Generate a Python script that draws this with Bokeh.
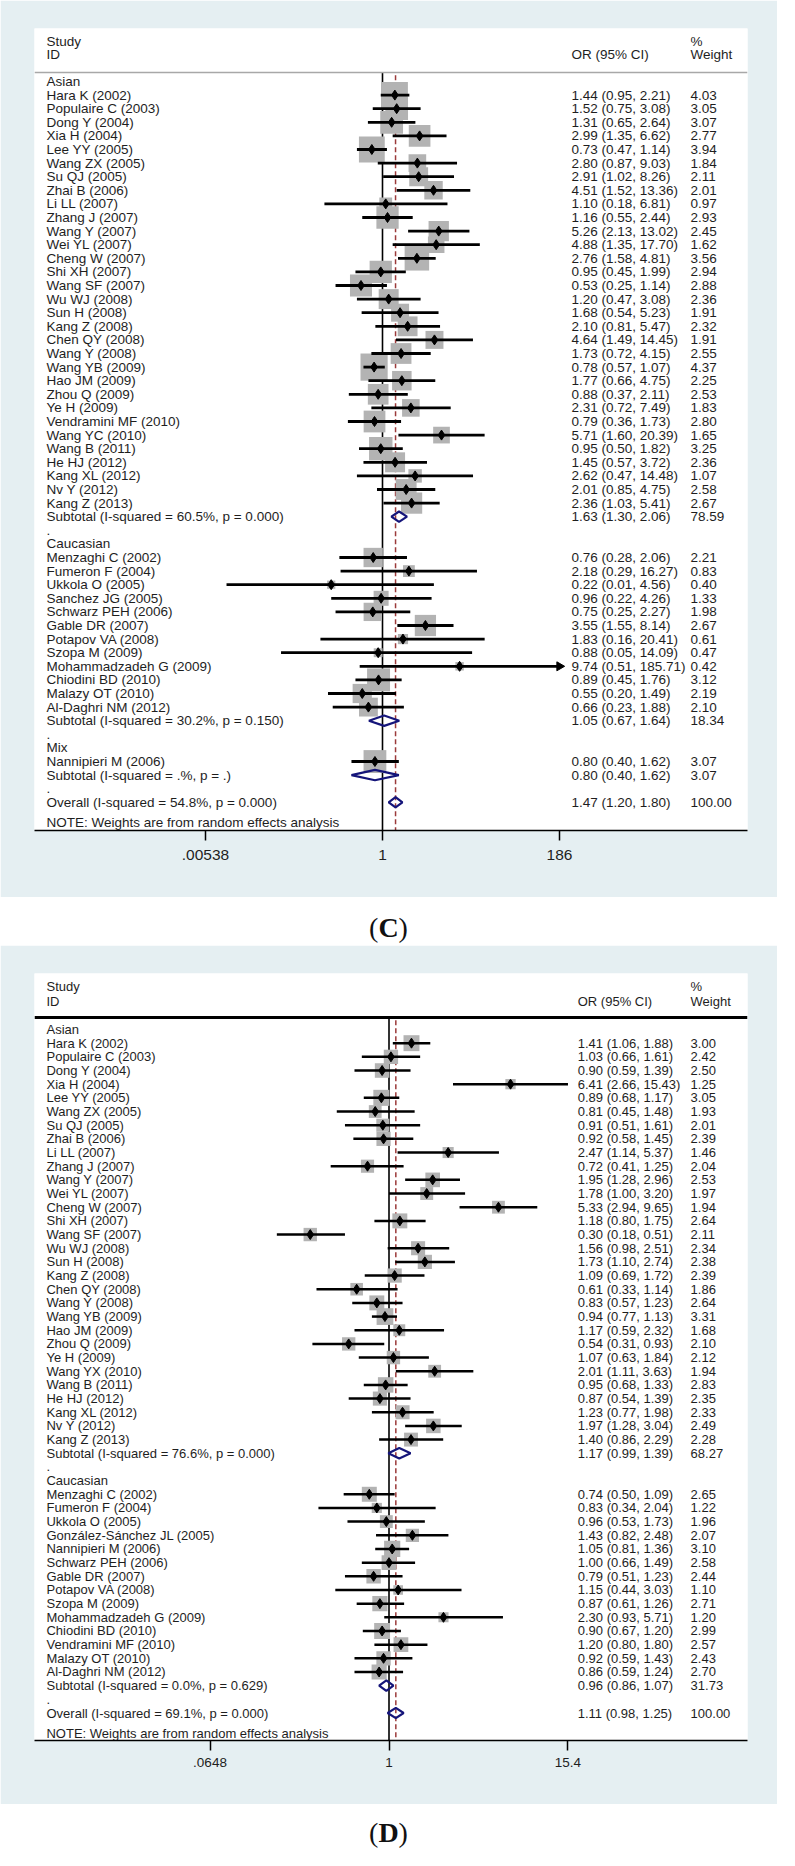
import numpy as np
from bokeh.plotting import figure
from bokeh.models import Range1d, FixedTicker, Span, Div
from bokeh.layouts import column
from bokeh.embed import file_html
from bokeh.resources import INLINE
from bokeh.core.properties import value

# ---------------- Panel C data ----------------
C_group_names = ["Asian", "Caucasian", "Mix"]
C_names = ["Hara K (2002)", "Populaire C (2003)", "Dong Y (2004)", "Xia H (2004)", "Lee YY (2005)",
           "Wang ZX (2005)", "Su QJ (2005)", "Zhai B (2006)", "Li LL (2007)", "Zhang J (2007)",
           "Wang Y (2007)", "Wei YL (2007)", "Cheng W (2007)", "Shi XH (2007)", "Wang SF (2007)",
           "Wu WJ (2008)", "Sun H (2008)", "Kang Z (2008)", "Chen QY (2008)", "Wang Y (2008)",
           "Wang YB  (2009)", "Hao JM (2009)", "Zhou Q (2009)", "Ye H (2009)", "Vendramini MF (2010)",
           "Wang YC (2010)", "Wang B (2011)", "He HJ (2012)", "Kang XL (2012)", "Nv Y (2012)",
           "Kang Z (2013)",
           "Menzaghi C (2002)", "Fumeron F (2004)", "Ukkola O (2005)", "Sanchez JG (2005)",
           "Schwarz PEH (2006)", "Gable DR (2007)", "Potapov VA (2008)", "Szopa M (2009)",
           "Mohammadzadeh G (2009)", "Chiodini BD (2010)", "Malazy OT (2010)", "Al-Daghri NM (2012)",
           "Nannipieri M (2006)"]
C_group = ["Asian"] * 31 + ["Caucasian"] * 12 + ["Mix"]
C_or = [1.44, 1.52, 1.31, 2.99, 0.73, 2.80, 2.91, 4.51, 1.10, 1.16, 5.26, 4.88, 2.76, 0.95, 0.53,
        1.20, 1.68, 2.10, 4.64, 1.73, 0.78, 1.77, 0.88, 2.31, 0.79, 5.71, 0.95, 1.45, 2.62, 2.01, 2.36,
        0.76, 2.18, 0.22, 0.96, 0.75, 3.55, 1.83, 0.88, 9.74, 0.89, 0.55, 0.66,
        0.80]
C_lo = [0.95, 0.75, 0.65, 1.35, 0.47, 0.87, 1.02, 1.52, 0.18, 0.55, 2.13, 1.35, 1.58, 0.45, 0.25,
        0.47, 0.54, 0.81, 1.49, 0.72, 0.57, 0.66, 0.37, 0.72, 0.36, 1.60, 0.50, 0.57, 0.47, 0.85, 1.03,
        0.28, 0.29, 0.01, 0.22, 0.25, 1.55, 0.16, 0.05, 0.51, 0.45, 0.20, 0.23,
        0.40]
C_hi = [2.21, 3.08, 2.64, 6.62, 1.14, 9.03, 8.26, 13.36, 6.81, 2.44, 13.02, 17.70, 4.81, 1.99, 1.14,
        3.08, 5.23, 5.47, 14.45, 4.15, 1.07, 4.75, 2.11, 7.49, 1.73, 20.39, 1.82, 3.72, 14.48, 4.75, 5.41,
        2.06, 16.27, 4.56, 4.26, 2.27, 8.14, 20.41, 14.09, 185.71, 1.76, 1.49, 1.88,
        1.62]
C_wt = [4.03, 3.05, 3.07, 2.77, 3.94, 1.84, 2.11, 2.01, 0.97, 2.93, 2.45, 1.62, 3.56, 2.94, 2.88,
        2.36, 1.91, 2.32, 1.91, 2.55, 4.37, 2.25, 2.53, 1.83, 2.80, 1.65, 3.25, 2.36, 1.07, 2.58, 2.67,
        2.21, 0.83, 0.40, 1.33, 1.98, 2.67, 0.61, 0.47, 0.42, 3.12, 2.19, 2.10,
        3.07]
C_arrow_studies = ["Mohammadzadeh G (2009)"]
C_sub_text = ["Subtotal  (I-squared = 60.5%, p = 0.000)",
              "Subtotal  (I-squared = 30.2%, p = 0.150)",
              "Subtotal  (I-squared = .%, p = .)"]
C_sub_or = [1.63, 1.05, 0.80]
C_sub_lo = [1.30, 0.67, 0.40]
C_sub_hi = [2.06, 1.64, 1.62]
C_sub_wt = [78.59, 18.34, 3.07]
C_ov_text = "Overall  (I-squared = 54.8%, p = 0.000)"
C_ov_or, C_ov_lo, C_ov_hi, C_ov_wt = 1.47, 1.20, 1.80, 100.00
C_ticks = [0.00538, 1, 186]
C_tick_labels = [".00538", "1", "186"]

# ---------------- Panel D data ----------------
D_group_names = ["Asian", "Caucasian"]
D_names = ["Hara K (2002)", "Populaire C (2003)", "Dong Y (2004)", "Xia H (2004)", "Lee YY (2005)",
           "Wang ZX (2005)", "Su QJ (2005)", "Zhai B (2006)", "Li LL (2007)", "Zhang J (2007)",
           "Wang Y (2007)", "Wei YL (2007)", "Cheng W (2007)", "Shi XH (2007)", "Wang SF (2007)",
           "Wu WJ (2008)", "Sun H (2008)", "Kang Z (2008)", "Chen QY (2008)", "Wang Y (2008)",
           "Wang YB  (2009)", "Hao JM (2009)", "Zhou Q (2009)", "Ye H (2009)", "Wang YX (2010)",
           "Wang B (2011)", "He HJ (2012)", "Kang XL (2012)", "Nv Y (2012)", "Kang Z (2013)",
           "Menzaghi C (2002)", "Fumeron F (2004)", "Ukkola O (2005)", "González-Sánchez JL (2005)",
           "Nannipieri M (2006)", "Schwarz PEH (2006)", "Gable DR (2007)", "Potapov VA (2008)",
           "Szopa M (2009)", "Mohammadzadeh G (2009)", "Chiodini BD (2010)", "Vendramini MF (2010)",
           "Malazy OT (2010)", "Al-Daghri NM (2012)"]
D_group = ["Asian"] * 30 + ["Caucasian"] * 14
D_or = [1.41, 1.03, 0.90, 6.41, 0.89, 0.81, 0.91, 0.92, 2.47, 0.72, 1.95, 1.78, 5.33, 1.18, 0.30,
        1.56, 1.73, 1.09, 0.61, 0.83, 0.94, 1.17, 0.54, 1.07, 2.01, 0.95, 0.87, 1.23, 1.97, 1.40,
        0.74, 0.83, 0.96, 1.43, 1.05, 1.00, 0.79, 1.15, 0.87, 2.30, 0.90, 1.20, 0.92, 0.86]
D_lo = [1.06, 0.66, 0.59, 2.66, 0.68, 0.45, 0.51, 0.58, 1.14, 0.41, 1.28, 1.00, 2.94, 0.80, 0.18,
        0.98, 1.10, 0.69, 0.33, 0.57, 0.77, 0.59, 0.31, 0.63, 1.11, 0.68, 0.54, 0.77, 1.28, 0.86,
        0.50, 0.34, 0.53, 0.82, 0.81, 0.66, 0.51, 0.44, 0.61, 0.93, 0.67, 0.80, 0.59, 0.59]
D_hi = [1.88, 1.61, 1.39, 15.43, 1.17, 1.48, 1.61, 1.45, 5.37, 1.25, 2.96, 3.20, 9.65, 1.75, 0.51,
        2.51, 2.74, 1.72, 1.14, 1.23, 1.13, 2.32, 0.93, 1.84, 3.63, 1.33, 1.39, 1.98, 3.04, 2.29,
        1.09, 2.04, 1.73, 2.48, 1.36, 1.49, 1.23, 3.03, 1.26, 5.71, 1.20, 1.80, 1.43, 1.24]
D_wt = [3.00, 2.42, 2.50, 1.25, 3.05, 1.93, 2.01, 2.39, 1.46, 2.04, 2.53, 1.97, 1.94, 2.64, 2.11,
        2.34, 2.38, 2.39, 1.86, 2.64, 3.31, 1.68, 2.10, 2.12, 1.94, 2.83, 2.35, 2.33, 2.49, 2.28,
        2.65, 1.22, 1.96, 2.07, 3.10, 2.58, 2.44, 1.10, 2.71, 1.20, 2.99, 2.57, 2.43, 2.70]
D_arrow_studies = []
D_sub_text = ["Subtotal  (I-squared = 76.6%, p = 0.000)",
              "Subtotal  (I-squared = 0.0%, p = 0.629)"]
D_sub_or = [1.17, 0.96]
D_sub_lo = [0.99, 0.86]
D_sub_hi = [1.39, 1.07]
D_sub_wt = [68.27, 31.73]
D_ov_text = "Overall  (I-squared = 69.1%, p = 0.000)"
D_ov_or, D_ov_lo, D_ov_hi, D_ov_wt = 1.11, 0.98, 1.25, 100.00
D_ticks = [0.0648, 1, 15.4]
D_tick_labels = [".0648", "1", "15.4"]

NOTE_TEXT = "NOTE: Weights are from random effects analysis"

FONT = value("Liberation Sans")
TXT = "#1e1e1e"
BG = "#e5eff2"
BOX = "#b3b3b3"
NAVY = "#15157a"


def make_panel(names, group, ors, los, his, wts, arrows, group_names, sub_text, sub_or, sub_lo,
               sub_hi, sub_wt, ov_text, ov_or, ov_lo, ov_hi, ov_wt, ticks, tick_labels, L):
    k = L["px_per_ln"]

    def X(px):
        return float(np.exp((px - L["one_px"]) / k))

    def R(py):
        return (py - L["row0_px"]) / L["row_px"]

    p = figure(width=777, height=L["fig_h"], x_axis_type="log",
               x_range=Range1d(X(L["fl"]), X(L["fr"])),
               y_range=Range1d(R(L["fb"]), R(L["ft"])),
               output_backend="svg", toolbar_location=None, y_axis_location=None,
               min_border_left=L["fl"] - 8, min_border_right=785 - L["fr"],
               min_border_top=L["ft"] - L["top"],
               min_border_bottom=L["top"] + L["fig_h"] - L["fb"])
    p.background_fill_color = "white"
    p.border_fill_color = BG
    p.outline_line_color = None
    p.xgrid.visible = False
    p.ygrid.visible = False

    # row layout: group label, studies, subtotal, "." ; then overall and note
    study_rows = []
    lab_rows, dot_rows, sub_rows = [], [], []
    r = 0
    for g in group_names:
        lab_rows.append(r)
        r += 1
        for i in range(len(names)):
            if group[i] == g:
                study_rows.append(r)
                r += 1
        sub_rows.append(r)
        r += 1
        dot_rows.append(r)
        r += 1
    ov_row = r
    note_row = r + L["note_off"]

    hdr = R(L["hdr_px"])
    ybot = R(L["fb"])

    p.add_layout(Span(location=hdr, dimension="width", line_color=L["hdr_color"],
                      line_width=L["hdr_w"]))
    p.segment(x0=[1], y0=[hdr], x1=[1], y1=[ybot], line_color="black", line_width=1.6)
    p.segment(x0=[ov_or], y0=[hdr + 0.2], x1=[ov_or], y1=[ybot], line_color="#9b3a3a",
              line_width=1.5, line_dash="5 3")

    sz = [L["box"] * np.sqrt(w) for w in wts]
    p.rect(x=ors, y=study_rows, width=sz, height=sz, width_units="screen", height_units="screen",
           fill_color=BOX, line_color=None)
    p.segment(x0=los, y0=study_rows, x1=his, y1=study_rows, line_color="black",
              line_width=L["ci_w"])
    p.scatter(x=ors, y=study_rows, marker="diamond", size=10, fill_color="black",
              line_color="black")
    arr_x = [his[i] for i, n in enumerate(names) if n in arrows]
    arr_y = [study_rows[i] for i, n in enumerate(names) if n in arrows]
    if arr_x:
        p.scatter(x=arr_x, y=arr_y, marker="triangle", angle=-np.pi / 2, size=9,
                  fill_color="black", line_color="black")

    h = 0.38
    dx, dy = [], []
    for o, lo, hi, rr in zip(sub_or + [ov_or], sub_lo + [ov_lo], sub_hi + [ov_hi],
                             sub_rows + [ov_row]):
        dx.append([lo, o, hi, o, lo])
        dy.append([rr, rr - h, rr, rr + h, rr])
    p.patches(xs=dx, ys=dy, fill_color=None, line_color=NAVY, line_width=2.2)

    fs = L["fs"]
    xl = X(54)
    left_texts = list(group_names) + list(names) + list(sub_text) + ["."] * len(dot_rows) + \
        [ov_text, NOTE_TEXT]
    left_rows = lab_rows + study_rows + sub_rows + dot_rows + [ov_row, note_row]
    p.text(x=[xl] * len(left_texts), y=left_rows, text=left_texts, text_font=FONT,
           text_font_size=fs, text_color=TXT, text_align="left", text_baseline="middle")

    or_txt = [f"{o:.2f} ({lo:.2f}, {hi:.2f})" for o, lo, hi in zip(ors, los, his)] + \
        [f"{o:.2f} ({lo:.2f}, {hi:.2f})" for o, lo, hi in zip(sub_or, sub_lo, sub_hi)] + \
        [f"{ov_or:.2f} ({ov_lo:.2f}, {ov_hi:.2f})"]
    wt_txt = [f"{w:.2f}" for w in wts] + [f"{w:.2f}" for w in sub_wt] + [f"{ov_wt:.2f}"]
    right_rows = study_rows + sub_rows + [ov_row]
    p.text(x=[X(L["or_px"])] * len(or_txt), y=right_rows, text=or_txt, text_font=FONT,
           text_font_size=fs, text_color=TXT, text_align="left", text_baseline="middle")
    p.text(x=[X(L["wt_px"])] * len(wt_txt), y=right_rows, text=wt_txt, text_font=FONT,
           text_font_size=fs, text_color=TXT, text_align="left", text_baseline="middle")

    p.text(x=[xl, xl, X(L["or_px"]), X(L["wt_px"]), X(L["wt_px"])],
           y=[R(L["study_px"]), R(L["id_px"]), R(L["id_px"]), R(L["study_px"]), R(L["id_px"])],
           text=["Study", "ID", "OR (95% CI)", "%", "Weight"], text_font=FONT,
           text_font_size=fs, text_color=TXT, text_align="left", text_baseline="middle")

    ax = p.xaxis[0]
    ax.ticker = FixedTicker(ticks=ticks)
    ax.major_label_overrides = {t: lab for t, lab in zip(ticks, tick_labels)}
    ax.minor_tick_line_color = None
    ax.axis_line_color = "black"
    ax.axis_line_width = 1.5
    ax.major_tick_line_color = "black"
    ax.major_tick_line_width = 1.5
    ax.major_tick_in = 0
    ax.major_tick_out = 10
    ax.major_label_text_font = "Liberation Sans"
    ax.major_label_text_font_size = L["tick_fs"]
    ax.major_label_text_color = TXT
    ax.major_label_standoff = L["standoff"]
    return p


LC = dict(px_per_ln=33.87, one_px=390, fl=42, fr=755, ft=36, fb=838, top=8, fig_h=897,
          row0_px=89, row_px=13.6, hdr_px=80, hdr_color="#a8a8a8", hdr_w=1.5,
          study_px=49, id_px=62, or_px=579, wt_px=698, note_off=1.5, fs="13.5px",
          tick_fs="15.5px", standoff=9, box=13.0, ci_w=2.8)
LD = dict(px_per_ln=65.5, one_px=397, fl=42, fr=756, ft=981, fb=1748, top=953, fig_h=859,
          row0_px=1037, row_px=13.67, hdr_px=1025, hdr_color="black", hdr_w=3,
          study_px=994, id_px=1009, or_px=586, wt_px=699, note_off=1.5, fs="13px",
          tick_fs="13.5px", standoff=7, box=9.2, ci_w=2.5)

pC = make_panel(C_names, C_group, C_or, C_lo, C_hi, C_wt, C_arrow_studies, C_group_names,
                C_sub_text, C_sub_or, C_sub_lo, C_sub_hi, C_sub_wt, C_ov_text, C_ov_or, C_ov_lo,
                C_ov_hi, C_ov_wt, C_ticks, C_tick_labels, LC)
pD = make_panel(D_names, D_group, D_or, D_lo, D_hi, D_wt, D_arrow_studies, D_group_names,
                D_sub_text, D_sub_or, D_sub_lo, D_sub_hi, D_sub_wt, D_ov_text, D_ov_or, D_ov_lo,
                D_ov_hi, D_ov_wt, D_ticks, D_tick_labels, LD)

lab_style = ("width:777px;text-align:center;font-family:'Liberation Serif';font-size:28px;"
             "line-height:30px;padding-top:{}px;color:#111")
divC = Div(text=f'<div style="{lab_style.format(16)}">(<b>C</b>)</div>', width=777, height=48,
           margin=(0, 0, 0, 0))
divD = Div(text=f'<div style="{lab_style.format(14)}">(<b>D</b>)</div>', width=777, height=44,
           margin=(0, 0, 0, 0))

layout = column(pC, divC, pD, divD, spacing=0)
open("out.html", "w").write(file_html(layout, INLINE))
